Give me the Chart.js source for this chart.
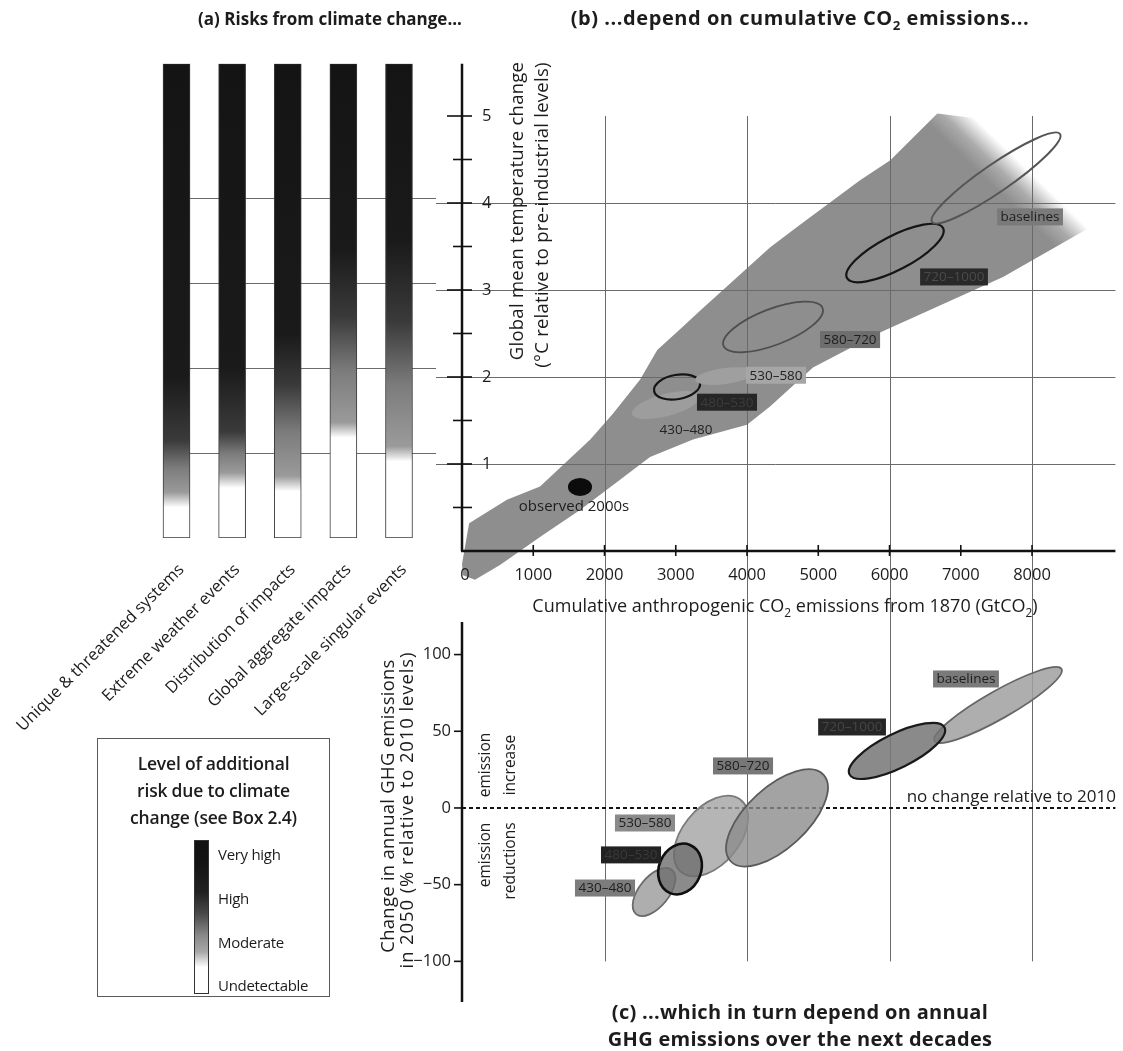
<!DOCTYPE html>
<html><head><meta charset="utf-8"><title>Risks from climate change</title>
<script src="https://cdn.jsdelivr.net/npm/chart.js@4.4.1/dist/chart.umd.min.js"></script>
<style>
html,body{margin:0;padding:0;background:#fff;}
#wrap{position:relative;width:1123px;height:1051px;overflow:hidden;font-family:'Open Sans','DejaVu Sans',sans-serif;color:#1c1c1c;}
canvas{position:absolute;left:0;top:0;}
.t{position:absolute;white-space:nowrap;transform:translate(-50%,-50%);line-height:1;}
.rot{transform:translate(-50%,-50%) rotate(-90deg);}
.ta{font-weight:700;font-size:17px;}
.tb{font-weight:700;font-size:20px;letter-spacing:0.55px;}
.ctitle{font-weight:700;font-size:20px;letter-spacing:0.3px;}
.ax{font-size:18px;}
.ay{font-size:18.5px;letter-spacing:0.25px;}
.sm{font-size:15.5px;}
.s2{font-size:66%;position:relative;top:0.4em;}
#legend{position:absolute;left:97px;top:738px;width:233px;height:259px;border:1px solid #5a5a5a;box-sizing:border-box;}
#legend .lt{position:absolute;left:0;top:11px;width:100%;text-align:center;font-weight:600;font-size:17.5px;line-height:27px;letter-spacing:-0.2px;}
#legend .gb{position:absolute;left:96px;top:101px;width:15px;height:154px;border:1px solid #333;box-sizing:border-box;
 background:linear-gradient(to top,#fff 0%,#fff 17%,#a8a8a8 27%,#888 38%,#4a4a4a 52%,#222 66%,#141414 85%,#111 100%);}
#legend .ll{position:absolute;left:120px;font-size:15px;line-height:1;transform:translateY(-50%);white-space:nowrap;letter-spacing:-0.3px;}
</style></head>
<body><div id="wrap">
<canvas id="cA" width="1123" height="1051"></canvas>
<canvas id="cB" width="1123" height="1051"></canvas>
<canvas id="cC" width="1123" height="1051"></canvas>

<div class="t ta" style="left:330px;top:18px;">(a) Risks from climate change...</div>
<div class="t tb" style="left:800px;top:18px;">(b) ...depend on cumulative CO<span class="s2">2</span> emissions...</div>

<div class="t ay rot" style="left:516px;top:211px;">Global mean temperature change</div>
<div class="t ay rot" style="left:541px;top:215px;">(°C relative to pre-industrial levels)</div>
<div class="t ax" style="left:785px;top:605px;">Cumulative anthropogenic CO<span class="s2">2</span> emissions from 1870 (GtCO<span class="s2">2</span>)</div>

<div class="t ay rot" style="left:387px;top:806px;">Change in annual GHG emissions</div>
<div class="t ay rot" style="left:406px;top:810px;letter-spacing:0.9px;">in 2050 (% relative to 2010 levels)</div>
<div class="t sm rot" style="left:485px;top:765px;">emission</div>
<div class="t sm rot" style="left:510px;top:765px;">increase</div>
<div class="t sm rot" style="left:485px;top:855px;">emission</div>
<div class="t sm rot" style="left:510px;top:861px;">reductions</div>
<div class="t ax" style="left:1116px;top:795px;transform:translate(-100%,-50%);font-size:17px;">no change relative to 2010</div>

<div class="t ctitle" style="left:800px;top:1012px;">(c) ...which in turn depend on annual</div>
<div class="t ctitle" style="left:800px;top:1039px;">GHG emissions over the next decades</div>

<div id="legend">
 <div class="lt">Level of additional<br>risk due to climate<br>change (see Box 2.4)</div>
 <div class="gb"></div>
 <div class="ll" style="top:115px;">Very high</div>
 <div class="ll" style="top:159px;">High</div>
 <div class="ll" style="top:203px;">Moderate</div>
 <div class="ll" style="top:246px;">Undetectable</div>
</div>
</div>
<script>
// ---------------- DATA ----------------
// Panel (a): reasons for concern, temperature (°C) where risk level rises
const riskCategories = ['Unique & threatened systems','Extreme weather events','Distribution of impacts','Global aggregate impacts','Large-scale singular events'];
const riskTop = [5.58, 5.58, 5.58, 5.58, 5.58];
const riskModerateFrom = [0.40, 0.63, 0.59, 1.22, 0.94];
const riskHighFrom = [1.15, 1.25, 1.80, 2.60, 2.55];
const riskVeryHighFrom = [1.90, 2.00, 2.40, 3.40, 3.50];

// Axis ticks
const tempTicks = [1, 2, 3, 4, 5];
const tempMinorTicks = [0.5, 1.5, 2.5, 3.5, 4.5];
const tempGrid = [1, 2, 3, 4];
const co2Ticks = [0, 1000, 2000, 3000, 4000, 5000, 6000, 7000, 8000];
const co2Grid = [2000, 4000, 6000, 8000];
const ghgTicks = [-100, -50, 0, 50, 100];

// Panel (b): plume of model results (cumulative CO2, GtCO2 / temperature, °C)
const plumeCO2  = [0, 100, 630, 1095, 1800, 2120, 2500, 2740, 3060, 3340, 4326, 4744, 5586, 6011, 6671, 6952, 7248, 8188, 8792, 7593, 5867, 4926, 4323, 4000, 3242, 2639, 2218, 1656, 1095, 533, 182, 14];
const plumeTemp = [-0.15, 0.32, 0.59, 0.74, 1.28, 1.58, 1.97, 2.31, 2.55, 2.76, 3.49, 3.75, 4.26, 4.49, 5.03, 5.00, 4.97, 4.40, 3.71, 3.15, 2.51, 2.11, 1.66, 1.45, 1.28, 1.08, 0.82, 0.47, 0.16, -0.16, -0.33, -0.28];

// Scenario categories (ppm CO2-eq in 2100)
const scenarios = ['430–480', '480–530', '530–580', '580–720', '720–1000', 'baselines'];
// Panel (b) ellipses: centre, end of major axis, end of minor axis
const bCentreCO2  = [2863, 3018, 3691, 4365, 6077, 7495];
const bCentreTemp = [1.678, 1.885, 2.011, 2.575, 3.425, 4.287];
const bMajorCO2   = [3340, 3340, 4112, 5060, 6751, 8393];
const bMajorTemp  = [1.782, 1.931, 2.057, 2.793, 3.713, 4.793];
const bMinorCO2   = [2902, 3046, 3705, 4456, 6188, 7606];
const bMinorTemp  = [1.555, 1.747, 1.920, 2.382, 3.252, 4.155];
// Observed 2000s
const obsCO2  = [1656, 1825, 1656];
const obsTemp = [0.736, 0.736, 0.839];

// Panel (c) ellipses: cumulative CO2 (GtCO2) / change in 2050 GHG emissions (%)
const cCentreCO2 = [2695, 3060, 3495, 4421, 6105, 7523];
const cCentreGHG = [-54.8, -39.8, -18.3, -6.5, 37.2, 67.1];
const cMajorCO2  = [2947, 3200, 3905, 5078, 6772, 8414];
const cMajorGHG  = [-40.4, -24.1, 5.5, 21.4, 52.5, 90.6];
const cMinorCO2  = [2857, 3333, 3815, 4700, 6211, 7620];
const cMinorGHG  = [-61.0, -45.0, -29.4, -21.5, 27.2, 59.2];

// ---------------- LAYOUT / STYLE ----------------
const FONT = '"Open Sans","DejaVu Sans",sans-serif';
const bLabelAt = [[3144,1.39],[3719,1.71],[4407,2.02],[5446,2.43],[6905,3.15],[7972,3.84]];
const bLabelBg = [null,'#262626','#a6a6a6','#6e6e6e','#292929','#7a7a7a'];
const bLabelFg = ['#222','#3c3c3c','#222','#1e1e1e','#4a4a4a','#1e1e1e'];
const bFill   = ['#9d9d9d', null, '#9f9f9f', null, null, null];
const bStroke = [null, '#151515', null, '#4e4e4e', '#151515', '#555'];
const bWidth  = [0, 2.2, 0, 1.8, 2.2, 2];
const cLabelAt = [[2007,-52.2],[2372,-30.6],[2568,-9.8],[3944,27.4],[5474,52.8],[7073,84.1]];
const cLabelBg = ['#7c7c7c','#222','#8a8a8a','#777','#262626','#7a7a7a'];
const cLabelFg = ['#1e1e1e','#3a3a3a','#1e1e1e','#1e1e1e','#464646','#1e1e1e'];
const cFill   = ['rgba(160,160,160,0.85)','rgba(110,110,110,0.8)','rgba(162,162,162,0.8)','rgba(140,140,140,0.8)','rgba(118,118,118,0.85)','rgba(160,160,160,0.85)'];
const cStroke = ['#6a6a6a','#0e0e0e','#7a7a7a','#5a5a5a','#1a1a1a','#666'];
const cWidth  = [1.8, 2.6, 1.8, 1.8, 2.2, 1.8];
const cDrawOrder = [2, 3, 0, 1, 5, 4];
const PLUME_GREY = '#8e8e8e';

const B_LEFT = 462, B_RIGHT = 1115.4;

function pts(xs, ys){ return xs.map((v,i)=>({x:v, y:ys[i]})); }

function drawEllipse(ctx, meta, fill, stroke, lw){
  const c = meta.data[0], a = meta.data[1], b = meta.data[2];
  if (!c || !a || !b) return;
  ctx.save();
  ctx.beginPath();
  ctx.transform(a.x-c.x, a.y-c.y, b.x-c.x, b.y-c.y, c.x, c.y);
  ctx.arc(0, 0, 1, 0, Math.PI*2);
  ctx.restore();
  if (fill){ ctx.fillStyle = fill; ctx.fill(); }
  if (stroke && lw){ ctx.strokeStyle = stroke; ctx.lineWidth = lw; ctx.stroke(); }
}
function boxLabel(ctx, text, px, py, bg, fg){
  ctx.font = '13.5px ' + FONT;
  const w = ctx.measureText(text).width + 7, h = 17;
  if (bg){ ctx.fillStyle = bg; ctx.fillRect(px-w/2, py-h/2, w, h); }
  ctx.fillStyle = fg; ctx.textAlign = 'center'; ctx.textBaseline = 'middle';
  ctx.fillText(text, px, py+0.5);
}
// soft fade of the plume's upper-right edge
function plumeFill(ctx){
  const ch = ctx.chart, x = ch.scales && ch.scales.x, y = ch.scales && ch.scales.y;
  if (!x || !y) return PLUME_GREY;
  const mx = x.getPixelForValue(7803), my = y.getPixelForValue(4.30);
  if (!isFinite(mx) || !isFinite(my)) return PLUME_GREY;
  const dx = 0.70, dy = -0.72;
  const g = ch.ctx.createLinearGradient(mx - 24*dx, my - 24*dy, mx + 12*dx, my + 12*dy);
  g.addColorStop(0, PLUME_GREY);
  g.addColorStop(0.45, 'rgba(142,142,142,0.75)');
  g.addColorStop(1, 'rgba(142,142,142,0)');
  return g;
}

// ---------------- PANEL (a) ----------------
function riskGradient(ctx){
  const chart = ctx.chart, y = chart.scales && chart.scales.y;
  if (!y || ctx.dataIndex === undefined) return '#1a1a1a';
  const i = ctx.dataIndex, top = riskTop[i];
  const y0 = y.getPixelForValue(0), y1 = y.getPixelForValue(top);
  if (!isFinite(y0) || !isFinite(y1) || y0 === y1) return '#1a1a1a';
  const g = chart.ctx.createLinearGradient(0, y0, 0, y1);
  const f = t => Math.min(1, Math.max(0, t/top));
  const m = riskModerateFrom[i], h = riskHighFrom[i], v = riskVeryHighFrom[i];
  g.addColorStop(0, '#ffffff');
  g.addColorStop(f(m-0.04), '#ffffff');
  g.addColorStop(f(m+0.14), '#9a9a9a');
  g.addColorStop(f((m+h)/2+0.05), '#7c7c7c');
  g.addColorStop(f(h), '#3a3a3a');
  g.addColorStop(f(v), '#1a1a1a');
  g.addColorStop(1, '#141414');
  return g;
}
const panelAPlugin = {
  id: 'panelA',
  beforeDatasetsDraw(chart){
    const ctx = chart.ctx, x = chart.scales.x, y = chart.scales.y;
    ctx.save();
    ctx.strokeStyle = '#6a6a6a'; ctx.lineWidth = 1;
    const x0 = x.getPixelForValue(0) + 13;
    tempGrid.forEach(t => {
      const py = Math.round(y.getPixelForValue(t)) + 0.5;
      ctx.beginPath(); ctx.moveTo(x0, py); ctx.lineTo(B_LEFT - 26, py); ctx.stroke();
    });
    ctx.restore();
  },
  afterDraw(chart){
    const ctx = chart.ctx, x = chart.scales.x;
    ctx.save();
    ctx.font = '16.5px ' + FONT; ctx.fillStyle = '#1c1c1c';
    ctx.textAlign = 'right'; ctx.textBaseline = 'middle';
    riskCategories.forEach((c, i) => {
      ctx.save();
      ctx.translate(x.getPixelForValue(i) + 5, 567);
      ctx.rotate(-Math.PI/4);
      ctx.fillText(c, 0, 0);
      ctx.restore();
    });
    ctx.restore();
  }
};
try {
new Chart(document.getElementById('cA'), {
  type: 'bar',
  data: { labels: riskCategories,
    datasets: [{ data: riskCategories.map((c,i)=>[0, riskTop[i]]), backgroundColor: riskGradient,
      borderColor: '#3a3a3a', borderWidth: 1, borderSkipped: false, barThickness: 27 }] },
  options: {
    responsive: false, animation: false, events: [],
    layout: { padding: { left: 148.7, right: 1123-426.8, top: 63.7, bottom: 1051-538 } },
    plugins: { legend: {display:false}, tooltip: {enabled:false} },
    scales: { x: { display:false, offset:true }, y: { display:false, min:0, max:5.58 } }
  },
  plugins: [panelAPlugin]
});
} catch(e) { console.error(e); }

// ---------------- PANEL (b) ----------------
const panelBPlugin = {
  id: 'panelB',
  afterDatasetsDraw(chart){
    const ctx = chart.ctx, x = chart.scales.x, y = chart.scales.y, ca = chart.chartArea;
    const X0 = x.getPixelForValue(0), Y0 = y.getPixelForValue(0);
    ctx.save();
    ctx.strokeStyle = '#6a6a6a'; ctx.lineWidth = 1;
    tempGrid.forEach(t => { const py = Math.round(y.getPixelForValue(t))+0.5;
      ctx.beginPath(); ctx.moveTo(X0-26, py); ctx.lineTo(ca.right, py); ctx.stroke(); });
    co2Grid.forEach(v => { const px = Math.round(x.getPixelForValue(v))+0.5;
      ctx.beginPath(); ctx.moveTo(px, y.getPixelForValue(5)); ctx.lineTo(px, ca.bottom); ctx.stroke(); });
    // ellipses
    scenarios.forEach((s, i) => {
      drawEllipse(ctx, chart.getDatasetMeta(i+2), bFill[i], bStroke[i], bWidth[i]);
    });
    drawEllipse(ctx, chart.getDatasetMeta(1), '#0c0c0c', null, 0);
    // labels
    scenarios.forEach((s, i) => {
      boxLabel(ctx, s, x.getPixelForValue(bLabelAt[i][0]), y.getPixelForValue(bLabelAt[i][1]), bLabelBg[i], bLabelFg[i]);
    });
    ctx.font = '15px ' + FONT; ctx.fillStyle = '#1e1e1e'; ctx.textAlign = 'center'; ctx.textBaseline = 'middle';
    ctx.fillText('observed 2000s', x.getPixelForValue(1572), y.getPixelForValue(0.51));
    // axes
    ctx.strokeStyle = '#111'; ctx.lineWidth = 2.5;
    ctx.beginPath(); ctx.moveTo(X0, Y0); ctx.lineTo(X0, ca.top); ctx.stroke();
    ctx.beginPath(); ctx.moveTo(X0-1, Y0); ctx.lineTo(ca.right, Y0); ctx.stroke();
    ctx.lineWidth = 1.6;
    tempTicks.forEach(t => { const py = y.getPixelForValue(t);
      ctx.beginPath(); ctx.moveTo(X0-15, py); ctx.lineTo(X0+10, py); ctx.stroke(); });
    tempMinorTicks.forEach(t => { const py = y.getPixelForValue(t);
      ctx.beginPath(); ctx.moveTo(X0-9, py); ctx.lineTo(X0+10, py); ctx.stroke(); });
    co2Ticks.forEach(v => { if (!v) return; const px = x.getPixelForValue(v);
      ctx.beginPath(); ctx.moveTo(px, Y0-6); ctx.lineTo(px, Y0+5); ctx.stroke(); });
    ctx.font = '16.5px ' + FONT; ctx.fillStyle = '#1c1c1c';
    ctx.textAlign = 'left'; ctx.textBaseline = 'middle';
    tempTicks.forEach(t => ctx.fillText(String(t), X0+20, y.getPixelForValue(t)));
    ctx.textAlign = 'center';
    co2Ticks.forEach(v => ctx.fillText(String(v), x.getPixelForValue(v) + (v ? 0 : 3), Y0+24));
    ctx.restore();
  }
};
const bDatasets = [
  { data: pts(plumeCO2, plumeTemp), showLine: true, fill: 'shape', backgroundColor: plumeFill,
    borderWidth: 0, pointRadius: 0, tension: 0 },
  { data: pts(obsCO2, obsTemp), pointRadius: 0, showLine: false }
].concat(scenarios.map((s, i) => ({
  label: s, pointRadius: 0, showLine: false,
  data: [{x:bCentreCO2[i], y:bCentreTemp[i]}, {x:bMajorCO2[i], y:bMajorTemp[i]}, {x:bMinorCO2[i], y:bMinorTemp[i]}]
})));
try {
new Chart(document.getElementById('cB'), {
  type: 'scatter',
  data: { datasets: bDatasets },
  options: {
    responsive: false, animation: false, events: [],
    layout: { padding: { left: B_LEFT, right: 1123-B_RIGHT, top: 63.8, bottom: 1051-622.3 } },
    plugins: { legend: {display:false}, tooltip: {enabled:false} },
    scales: { x: { type:'linear', display:false, min:0, max:9170 }, y: { type:'linear', display:false, min:-0.82, max:5.6 } }
  },
  plugins: [panelBPlugin]
});
} catch(e) { console.error(e); }

// ---------------- PANEL (c) ----------------
const panelCPlugin = {
  id: 'panelC',
  afterDatasetsDraw(chart){
    const ctx = chart.ctx, x = chart.scales.x, y = chart.scales.y, ca = chart.chartArea;
    const X0 = x.getPixelForValue(0), Y0 = y.getPixelForValue(0);
    ctx.save();
    ctx.strokeStyle = '#6a6a6a'; ctx.lineWidth = 1;
    co2Grid.forEach(v => { const px = Math.round(x.getPixelForValue(v))+0.5;
      ctx.beginPath(); ctx.moveTo(px, ca.top); ctx.lineTo(px, y.getPixelForValue(-100)); ctx.stroke(); });
    // zero line
    ctx.strokeStyle = '#111'; ctx.lineWidth = 2; ctx.setLineDash([4, 3]);
    ctx.beginPath(); ctx.moveTo(X0, Y0); ctx.lineTo(ca.right, Y0); ctx.stroke();
    ctx.setLineDash([]);
    // ellipses
    cDrawOrder.forEach(i => drawEllipse(ctx, chart.getDatasetMeta(i), cFill[i], cStroke[i], cWidth[i]));
    scenarios.forEach((s, i) => {
      boxLabel(ctx, s, x.getPixelForValue(cLabelAt[i][0]), y.getPixelForValue(cLabelAt[i][1]), cLabelBg[i], cLabelFg[i]);
    });
    // axis
    ctx.strokeStyle = '#111'; ctx.lineWidth = 2.5;
    ctx.beginPath(); ctx.moveTo(X0, ca.top); ctx.lineTo(X0, ca.bottom); ctx.stroke();
    ctx.lineWidth = 1.6;
    ghgTicks.forEach(v => { const py = y.getPixelForValue(v);
      ctx.beginPath(); ctx.moveTo(X0-8, py); ctx.lineTo(X0, py); ctx.stroke(); });
    ctx.font = '16.5px ' + FONT; ctx.fillStyle = '#1c1c1c';
    ctx.textAlign = 'right'; ctx.textBaseline = 'middle';
    ghgTicks.forEach(v => ctx.fillText(String(v).replace('-', '\u2212'), X0-11, y.getPixelForValue(v)));
    ctx.restore();
  }
};
try {
new Chart(document.getElementById('cC'), {
  type: 'scatter',
  data: { datasets: scenarios.map((s, i) => ({
    label: s, pointRadius: 0, showLine: false,
    data: [{x:cCentreCO2[i], y:cCentreGHG[i]}, {x:cMajorCO2[i], y:cMajorGHG[i]}, {x:cMinorCO2[i], y:cMinorGHG[i]}]
  })) },
  options: {
    responsive: false, animation: false, events: [],
    layout: { padding: { left: B_LEFT, right: 1123-B_RIGHT, top: 621.9, bottom: 1051-1002 } },
    plugins: { legend: {display:false}, tooltip: {enabled:false} },
    scales: { x: { type:'linear', display:false, min:0, max:9170 }, y: { type:'linear', display:false, min:-126.5, max:121.3 } }
  },
  plugins: [panelCPlugin]
});
} catch(e) { console.error(e); }
</script>
</body></html>
